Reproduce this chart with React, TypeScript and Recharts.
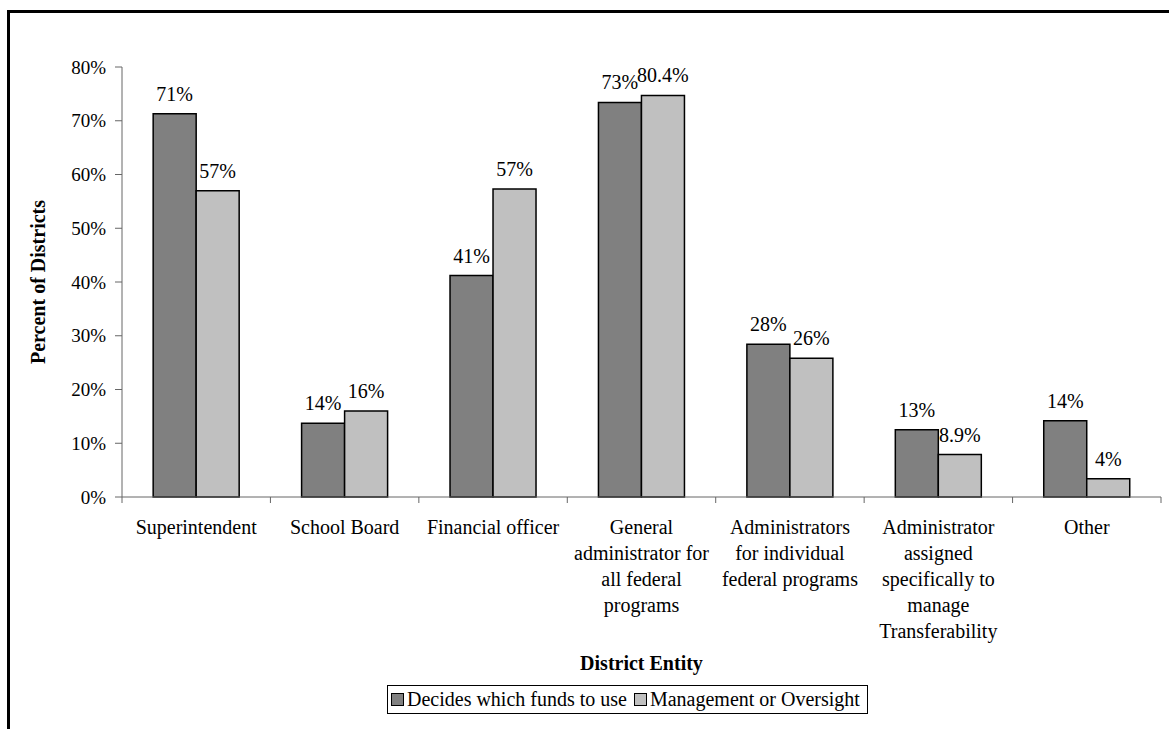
import React from 'react'
import { BarChart, Bar, XAxis, YAxis, Legend, LabelList } from 'recharts'

// district entities (line breaks follow the wrapped axis labels)
const categories = [
  'Superintendent',
  'School Board',
  'Financial officer',
  'General\nadministrator for\nall federal\nprograms',
  'Administrators\nfor individual\nfederal programs',
  'Administrator\nassigned\nspecifically to\nmanage\nTransferability',
  'Other',
]

// bar heights as drawn (percent)
const decidesValues = [71.3, 13.7, 41.2, 73.4, 28.4, 12.5, 14.2]
const oversightValues = [57.0, 16.0, 57.3, 74.7, 25.8, 7.9, 3.4]

// printed data labels
const decidesLabels = ['71%', '14%', '41%', '73%', '28%', '13%', '14%']
const oversightLabels = ['57%', '16%', '57%', '80.4%', '26%', '8.9%', '4%']

const yTicks = [0, 10, 20, 30, 40, 50, 60, 70, 80]

const seriesNames = ['Decides which funds to use', 'Management or Oversight']

const data = categories.map((name, i) => ({
  name,
  decides: decidesValues[i],
  oversight: oversightValues[i],
  decidesLabel: decidesLabels[i],
  oversightLabel: oversightLabels[i],
}))

const FONT = '"Liberation Serif", "Times New Roman", serif'
const DARK = '#808080'
const LIGHT = '#c0c0c0'
const AXIS = '#666666'

const PLOT_LEFT = 122
const PLOT_RIGHT = 1161
const PLOT_TOP = 67
const PLOT_BOTTOM = 497
const BAND = (PLOT_RIGHT - PLOT_LEFT) / categories.length

function CategoryTick(props: any) {
  const { x, payload, index } = props
  const lines = String(payload.value).split('\n')
  const y = PLOT_BOTTOM
  return (
    <g>
      <line x1={x - BAND / 2} x2={x - BAND / 2} y1={y} y2={y + 6} stroke={AXIS} strokeWidth={1} />
      {index === categories.length - 1 && (
        <line x1={x + BAND / 2} x2={x + BAND / 2} y1={y} y2={y + 6} stroke={AXIS} strokeWidth={1} />
      )}
      <text x={x} y={y + 37} textAnchor="middle" fontFamily={FONT} fontSize={20} fill="#000">
        {lines.map((l, i) => (
          <tspan key={i} x={x} dy={i === 0 ? 0 : 26}>
            {l}
          </tspan>
        ))}
      </text>
    </g>
  )
}

function LegendBox() {
  const item = (color: string, text: string) => (
    <span style={{ display: 'inline-flex', alignItems: 'center', marginRight: 7 }}>
      <span
        style={{
          display: 'inline-block',
          width: 11,
          height: 11,
          background: color,
          border: '1px solid #000',
          marginRight: 3,
        }}
      />
      {text}
    </span>
  )
  return (
    <div
      style={{
        border: '1px solid #000',
        background: '#fff',
        display: 'flex',
        alignItems: 'center',
        height: 27,
        padding: '0 0 0 3px',
        fontFamily: FONT,
        fontSize: 20,
        color: '#000',
        whiteSpace: 'nowrap',
      }}
    >
      {item(DARK, seriesNames[0])}
      {item(LIGHT, seriesNames[1])}
    </div>
  )
}

export default function App() {
  return (
    <div style={{ position: 'absolute', left: 0, top: 0, width: 1169, height: 729, overflow: 'hidden', background: '#fff' }}>
      <div
        style={{
          position: 'absolute',
          left: 7,
          top: 10,
          width: 1200,
          height: 800,
          borderLeft: '3px solid #000',
          borderTop: '3px solid #000',
        }}
      />
      <div style={{ position: 'absolute', left: 0, top: 0 }}>
        <BarChart
          width={1169}
          height={729}
          data={data}
          margin={{ top: PLOT_TOP, right: 1169 - PLOT_RIGHT, left: PLOT_LEFT - 60, bottom: 729 - PLOT_BOTTOM - 150 }}
          barCategoryGap="21%"
          barGap={0}
        >
          <XAxis
            dataKey="name"
            height={150}
            interval={0}
            tick={<CategoryTick />}
            tickLine={false}
            tickSize={0}
            axisLine={{ stroke: AXIS, strokeWidth: 1 }}
            label={{
              content: () => (
                <text x={(PLOT_LEFT + PLOT_RIGHT) / 2} y={670} textAnchor="middle" fontFamily={FONT} fontSize={20} fontWeight="bold" fill="#000">
                  District Entity
                </text>
              ),
            }}
          />
          <YAxis
            width={60}
            domain={[0, 80]}
            ticks={yTicks}
            interval={0}
            tickFormatter={(v) => `${v}%`}
            tick={{ fontFamily: FONT, fontSize: 19, fill: '#000' }}
            tickSize={7}
            tickMargin={9}
            tickLine={{ stroke: AXIS }}
            axisLine={{ stroke: AXIS, strokeWidth: 1 }}
            label={{
              content: () => (
                <text
                  x={40}
                  y={(PLOT_TOP + PLOT_BOTTOM) / 2}
                  transform={`rotate(-90 40 ${(PLOT_TOP + PLOT_BOTTOM) / 2})`}
                  textAnchor="middle"
                  dominantBaseline="middle"
                  fontFamily={FONT}
                  fontSize={20}
                  fontWeight="bold"
                  fill="#000"
                >
                  Percent of Districts
                </text>
              ),
            }}
          />
          <Legend
            layout="horizontal"
            verticalAlign="middle"
            align="center"
            content={() => <LegendBox />}
            wrapperStyle={{ left: 387, top: 685, width: 'auto', height: 'auto' }}
          />
          <Bar dataKey="decides" name={seriesNames[0]} fill={DARK} stroke="#000" strokeWidth={1.5} isAnimationActive={false}>
            <LabelList dataKey="decidesLabel" position="top" offset={13} fontFamily={FONT} fontSize={20} fill="#000" />
          </Bar>
          <Bar dataKey="oversight" name={seriesNames[1]} fill={LIGHT} stroke="#000" strokeWidth={1.5} isAnimationActive={false}>
            <LabelList dataKey="oversightLabel" position="top" offset={13} fontFamily={FONT} fontSize={20} fill="#000" />
          </Bar>
        </BarChart>
      </div>
    </div>
  )
}
